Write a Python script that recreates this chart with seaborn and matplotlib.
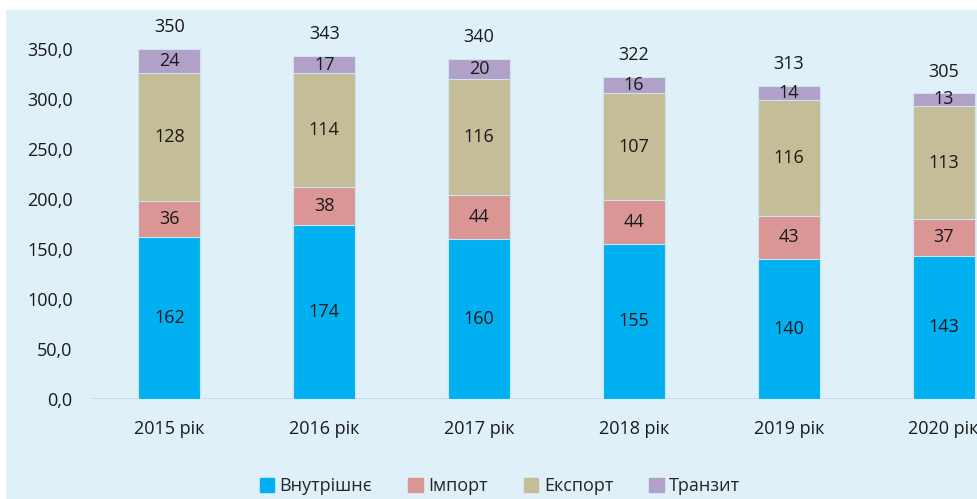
import numpy as np
import pandas as pd
import seaborn as sns
import matplotlib.pyplot as plt
from matplotlib.patches import Rectangle

# Дані
years = ['2015 рік', '2016 рік', '2017 рік', '2018 рік', '2019 рік', '2020 рік']
vnutrishne = [162, 174, 160, 155, 140, 143]
import_ = [36, 38, 44, 44, 43, 37]
eksport = [128, 114, 116, 107, 116, 113]
tranzyt = [24, 17, 20, 16, 14, 13]
totals = [350, 343, 340, 322, 313, 305]

series = ['Внутрішнє', 'Імпорт', 'Експорт', 'Транзит']
colors = ['#00b0f0', '#da9694', '#c4bd97', '#b1a0c7']
bg = '#dff0f8'

df = pd.DataFrame({'year': years, 'Внутрішнє': vnutrishne, 'Імпорт': import_,
                   'Експорт': eksport, 'Транзит': tranzyt})
cum = df[series].cumsum(axis=1)

sns.set_theme(style='white')
plt.rcParams['font.family'] = ['Open Sans', 'DejaVu Sans']

fig = plt.figure(figsize=(9.77, 4.99), dpi=100)
fig.patch.set_facecolor('white')
fig.patches.append(Rectangle((6 / 977, 0), 1, 1 - 10 / 499, transform=fig.transFigure,
                             facecolor=bg, edgecolor='none', zorder=-10))

# вісь виходить за правий край, як на оригіналі
ax = fig.add_axes([92 / 977, 100 / 499, 929 / 977, 380 / 499])
ax.set_facecolor('none')

# стовпці з накопиченням: спочатку найвищий
for s, c in zip(reversed(series), reversed(colors)):
    sns.barplot(x=df['year'], y=cum[s], color=c, width=0.4, ax=ax,
                edgecolor='#cfe4f2', linewidth=0.8, saturation=1)

ax.set_ylim(0, 380)
ax.set_xlim(-0.5, 5.5)
ax.set_yticks(np.arange(0, 351, 50))
ax.set_yticklabels([f'{v:.1f}'.replace('.', ',') for v in np.arange(0, 351, 50)])
ax.tick_params(axis='both', length=0, labelsize=13, colors='#1a1a1a')
ax.tick_params(axis='x', pad=15)
ax.tick_params(axis='y', pad=14)
ax.set_xlabel('')
ax.set_ylabel('')
for sp in ax.spines.values():
    sp.set_visible(False)
ax.axhline(0, color='#c5d9ea', lw=1.2, zorder=0)

# підписи сегментів
for i in range(len(years)):
    base = 0
    for s in series:
        v = df[s][i]
        ax.text(i, base + v / 2, str(v), ha='center', va='center', fontsize=13, color='#1a1a1a')
        base += v
    ax.text(i, totals[i] + 22, str(totals[i]), ha='center', va='center', fontsize=13,
            color='#1a1a1a', clip_on=False)

handles = [Rectangle((0, 0), 1, 1, color=c) for c in colors]
fig.legend(handles, series, loc='center', bbox_to_anchor=(500 / 977, 1 - 486 / 499),
           ncol=4, frameon=False, fontsize=13, handlelength=0.8, handleheight=0.8,
           handletextpad=0.3, columnspacing=2.0)

fig.savefig('out.png', dpi=100, facecolor=fig.get_facecolor())
